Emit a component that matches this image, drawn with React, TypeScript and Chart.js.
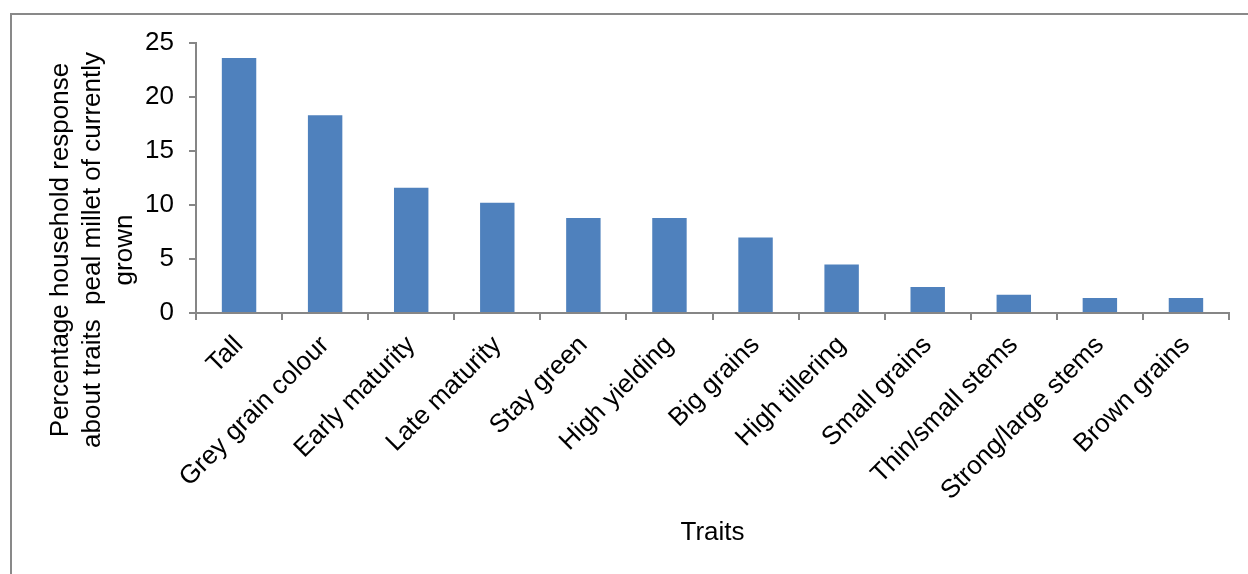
import React, { useEffect, useRef } from "react";
import { Chart, registerables } from "chart.js";

Chart.register(...registerables);

const categories = [
  "Tall",
  "Grey grain colour",
  "Early maturity",
  "Late maturity",
  "Stay green",
  "High yielding",
  "Big grains",
  "High tillering",
  "Small grains",
  "Thin/small stems",
  "Strong/large stems",
  "Brown grains",
];
const values = [23.6, 18.3, 11.6, 10.2, 8.8, 8.8, 7.0, 4.5, 2.4, 1.7, 1.4, 1.4];
const yMin = 0;
const yMax = 25;
const yStep = 5;
const yTitleLines = [
  "Percentage household response",
  "about traits  peal millet of currently",
  "grown",
];
const xTitle = "Traits";

const FONT = "'Liberation Sans', Arial, sans-serif";

export default function App() {
  const ref = useRef<HTMLCanvasElement>(null);

  useEffect(() => {
    document.body.style.margin = "0";
    const canvas = ref.current;
    if (!canvas) return;

    const decor = {
      id: "decor",
      beforeDraw(chart: any) {
        const ctx = chart.ctx;
        ctx.save();
        ctx.fillStyle = "#ffffff";
        ctx.fillRect(0, 0, chart.width, chart.height);
        ctx.strokeStyle = "#898989";
        ctx.lineWidth = 2;
        ctx.strokeRect(11, 14, chart.width + 40, chart.height + 40);
        ctx.restore();
      },
      afterDraw(chart: any) {
        const ctx = chart.ctx;
        const area = chart.chartArea;
        ctx.save();
        ctx.fillStyle = "#000000";
        ctx.font = `26px ${FONT}`;
        ctx.textAlign = "center";
        ctx.textBaseline = "middle";
        ctx.fillText(xTitle, (area.left + area.right) / 2, 533);
        const xs = [61, 93, 125];
        yTitleLines.forEach((line, i) => {
          ctx.save();
          ctx.translate(xs[i], 250);
          ctx.rotate(-Math.PI / 2);
          ctx.fillText(line, 0, 0);
          ctx.restore();
        });
        ctx.restore();
      },
    };

    const chart = new Chart(canvas, {
      type: "bar",
      data: {
        labels: categories,
        datasets: [
          {
            data: values,
            backgroundColor: "#4F81BD",
            barPercentage: 0.4,
            categoryPercentage: 1,
          },
        ],
      },
      options: {
        animation: false,
        responsive: false,
        devicePixelRatio: 1,
        layout: { padding: { top: 43, right: 19, left: 0, bottom: 0 } },
        plugins: {
          legend: { display: false },
          tooltip: { enabled: false },
        },
        scales: {
          x: {
            grid: {
              drawOnChartArea: false,
              tickLength: 7,
              color: "#868686",
              lineWidth: 2,
            },
            border: { color: "#868686", width: 2 },
            ticks: {
              maxRotation: 45,
              minRotation: 45,
              autoSkip: false,
              font: { family: FONT, size: 26 },
              color: "#000000",
              padding: 10,
            },
            afterFit: (s: any) => {
              s.height = 574 - 313;
            },
          },
          y: {
            min: yMin,
            max: yMax,
            grid: {
              drawOnChartArea: false,
              tickLength: 7,
              color: "#868686",
              lineWidth: 2,
            },
            border: { color: "#868686", width: 2 },
            ticks: {
              stepSize: yStep,
              font: { family: FONT, size: 26 },
              color: "#000000",
              padding: 15,
            },
            afterFit: (s: any) => {
              s.width = 196;
            },
          },
        },
      },
      plugins: [decor],
    });

    return () => chart.destroy();
  }, []);

  return (
    <canvas
      ref={ref}
      width={1248}
      height={574}
      style={{ display: "block", width: 1248, height: 574 }}
    />
  );
}
